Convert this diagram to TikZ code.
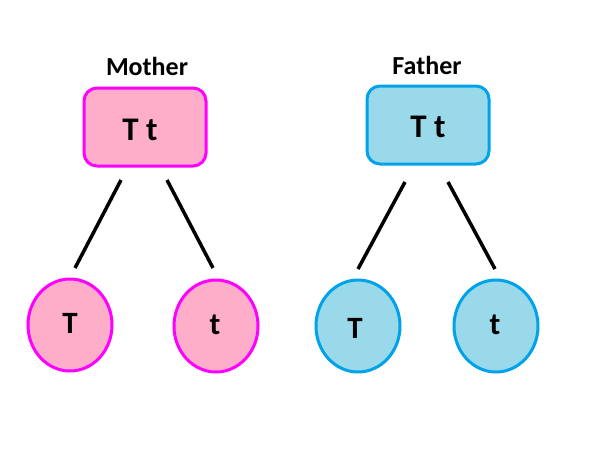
\documentclass[tikz,border=0pt]{standalone}
\usepackage{fontspec}
\setmainfont{Carlito}
\definecolor{rose}{RGB}{255,174,201}
\definecolor{magentab}{RGB}{255,0,255}
\definecolor{lturq}{RGB}{153,217,234}
\definecolor{turq}{RGB}{0,162,232}
\tikzset{
  parentbox/.style={draw, line width=3pt, rounded corners=13pt, minimum width=122pt, minimum height=78pt, inner sep=0pt},
  gamete/.style={draw, line width=3pt, ellipse, minimum width=84pt, minimum height=92pt, inner sep=0pt},
  mom/.style={draw=magentab, fill=rose},
  dad/.style={draw=turq, fill=lturq},
  lbl/.style={font=\bfseries\fontsize{26}{26}\selectfont},
  boxtxt/.style={font=\bfseries\fontsize{33}{33}\selectfont},
  gtxt/.style={font=\bfseries\fontsize{31}{31}\selectfont},
  link/.style={line width=3.5pt, black}
}
\usetikzlibrary{shapes.geometric}
\begin{document}
\begin{tikzpicture}[x=1pt,y=-1pt]
\useasboundingbox (0,0) rectangle (600,450);
% Mother
\node[lbl] (mlab) at (147,66) {Mother};
\node[parentbox, mom] (mbox) at (145,127) {};
\node[boxtxt] (mtxt) at (140,130) {T t};
\node[gamete, mom] (mT) at (70,325) {};
\node[gtxt] (mTt) at (70,323) {T};
\node[gamete, mom] (mt) at (216,326) {};
\node[gtxt] (mtt) at (215,325) {t};
% Father
\node[lbl] (flab) at (427,65) {Father};
\node[parentbox, dad] (fbox) at (428,125) {};
\node[boxtxt] (ftxt) at (428,127) {T t};
\node[gamete, dad] (fT) at (358,326) {};
\node[gtxt] (fTt) at (355,328) {T};
\node[gamete, dad] (ft) at (496,326) {};
\node[gtxt] (ftt) at (495,325) {t};
% connector end points
\coordinate (m1a) at (121,180); \coordinate (m1b) at (75,268);
\coordinate (m2a) at (167,180); \coordinate (m2b) at (213,268);
\coordinate (f1a) at (405,182); \coordinate (f1b) at (358,269);
\coordinate (f2a) at (448,182); \coordinate (f2b) at (495,269);
\draw[link] (m1a) -- (m1b);
\draw[link] (m2a) -- (m2b);
\draw[link] (f1a) -- (f1b);
\draw[link] (f2a) -- (f2b);
\end{tikzpicture}
\end{document}
